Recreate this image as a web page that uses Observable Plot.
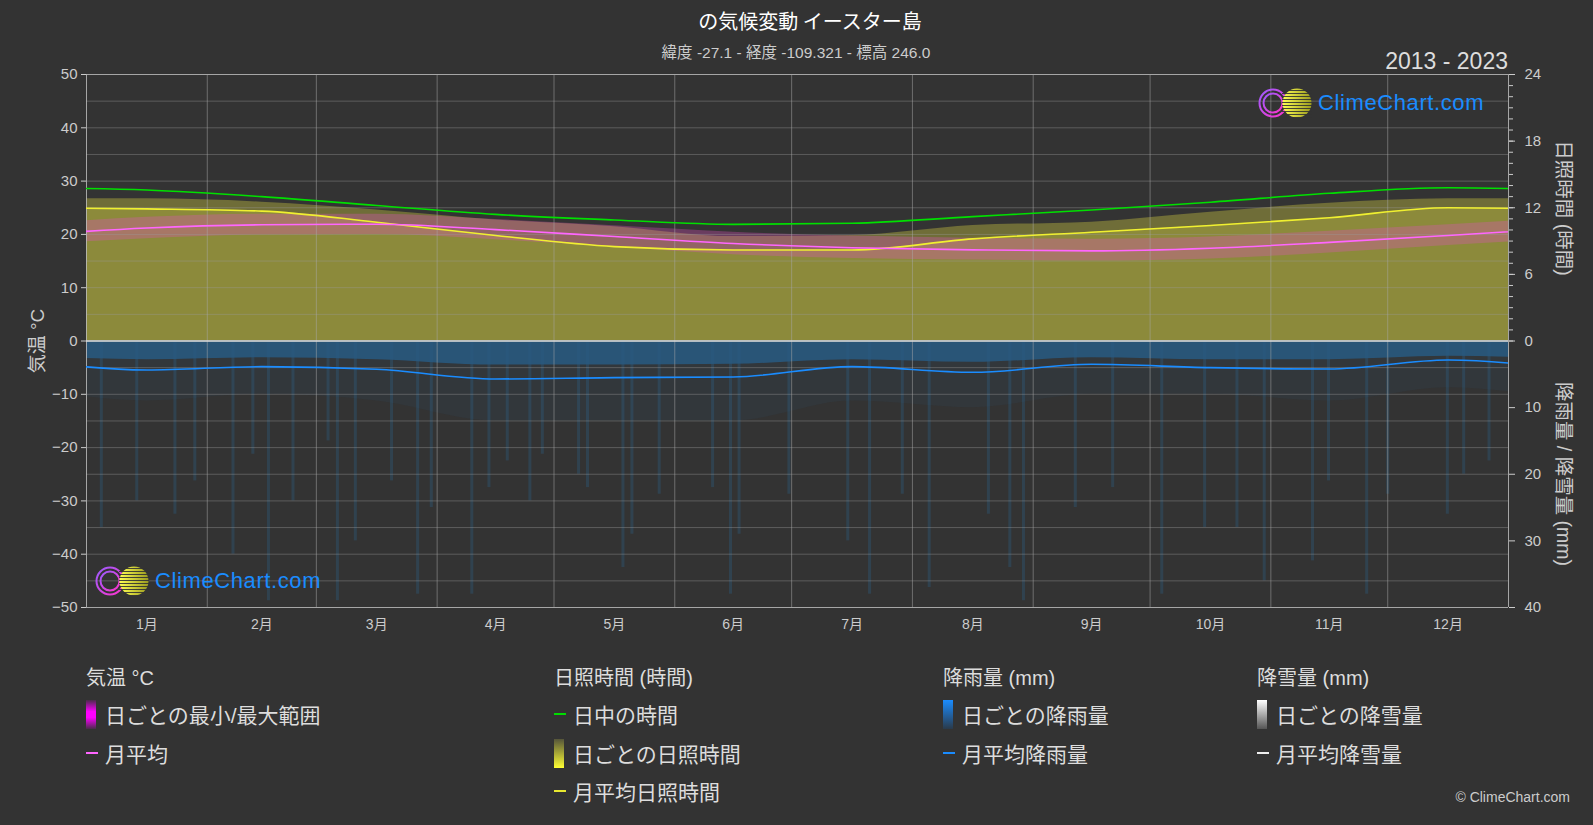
<!DOCTYPE html>
<html><head><meta charset="utf-8">
<script src="https://cdn.jsdelivr.net/npm/d3@7"></script>
<script src="https://cdn.jsdelivr.net/npm/@observablehq/plot@0.6"></script>
<style>
body{margin:0;background:#333;font-family:"Liberation Sans","Noto Sans CJK JP",sans-serif;}
#wrap{position:relative;width:1593px;height:825px;overflow:hidden;background:#333;color:#ddd;}
.abs{position:absolute;white-space:nowrap;}
.rot{transform:translate(-50%,-50%) rotate(90deg);}
.rotl{transform:translate(-50%,-50%) rotate(-90deg);}
.lh{font-size:20px;color:#ddd;transform:translateY(-50%);}
.li{font-size:21px;color:#ddd;display:flex;align-items:center;transform:translateY(-50%);}
.sw{display:inline-block;width:10px;height:29px;margin-right:9px;}
.ln{display:inline-block;width:12px;height:2px;margin-right:7px;}
.logo{display:flex;align-items:center;transform:translateY(-50%);}
.logo span{color:#1a8cff;font-size:22px;font-family:"Liberation Sans",sans-serif;letter-spacing:0.6px;margin-left:2px;}
</style></head>
<body>
<div id="wrap">
  <div class="abs" style="left:810px;top:20px;transform:translate(-50%,-50%);font-size:20px;color:#fff;font-family:'Noto Sans CJK JP',sans-serif;">の気候変動 イースター島</div>
  <div class="abs" style="left:796px;top:51px;transform:translate(-50%,-50%);font-size:15.5px;color:#ccc;font-family:'Liberation Sans','Noto Sans CJK JP',sans-serif;">緯度 -27.1 - 経度 -109.321 - 標高 246.0</div>
  <div class="abs" style="right:85px;top:61px;transform:translateY(-50%);font-size:23px;color:#ddd;">2013 - 2023</div>
  <div id="chart" class="abs" style="left:0;top:60px;"></div>
  <div class="abs rotl" style="left:35px;top:341px;font-size:19px;color:#ccc;">気温 °C</div>
  <div class="abs rot" style="left:1565px;top:208px;font-size:19.5px;color:#ccc;">日照時間 (時間)</div>
  <div class="abs rot" style="left:1565px;top:474px;font-size:19.5px;color:#ccc;">降雨量 / 降雪量 (mm)</div>

  <div id="logo1" class="abs logo" style="left:1258px;top:103px;"></div>
  <div id="logo2" class="abs logo" style="left:95px;top:581px;"></div>

  <div class="abs lh" style="left:86px;top:676px;">気温 °C</div>
  <div class="abs li" style="left:86px;top:714px;"><span class="sw" style="background:linear-gradient(#4a2a4a,#ff00ff 40%,#ff00ff 60%,#4a2a4a)"></span>日ごとの最小/最大範囲</div>
  <div class="abs li" style="left:86px;top:753px;"><span class="ln" style="background:#ff66ff"></span>月平均</div>

  <div class="abs lh" style="left:554px;top:676px;">日照時間 (時間)</div>
  <div class="abs li" style="left:554px;top:714px;"><span class="ln" style="background:#00dd00"></span>日中の時間</div>
  <div class="abs li" style="left:554px;top:753px;"><span class="sw" style="background:linear-gradient(#55553a,#ffff33)"></span>日ごとの日照時間</div>
  <div class="abs li" style="left:554px;top:791px;"><span class="ln" style="background:#e8e830"></span>月平均日照時間</div>

  <div class="abs lh" style="left:943px;top:676px;">降雨量 (mm)</div>
  <div class="abs li" style="left:943px;top:714px;"><span class="sw" style="background:linear-gradient(#1a8cff,#2a3a4a)"></span>日ごとの降雨量</div>
  <div class="abs li" style="left:943px;top:753px;"><span class="ln" style="background:#1a8cff"></span>月平均降雨量</div>

  <div class="abs lh" style="left:1257px;top:676px;">降雪量 (mm)</div>
  <div class="abs li" style="left:1257px;top:714px;"><span class="sw" style="background:linear-gradient(#ffffff,#555)"></span>日ごとの降雪量</div>
  <div class="abs li" style="left:1257px;top:753px;"><span class="ln" style="background:#eee"></span>月平均降雪量</div>

  <div class="abs" style="right:23px;top:797px;transform:translateY(-50%);font-size:14px;color:#ccc;">© ClimeChart.com</div>
</div>
<script>
// ---- data ----
const months = ["1月","2月","3月","4月","5月","6月","7月","8月","9月","10月","11月","12月"];
const monthStart = [0,31,59,90,120,151,181,212,243,273,304,334];
const monthDays = [31,28,31,30,31,30,31,31,30,31,30,31];
const tempMean = [21.2,21.8,21.9,20.9,19.6,18.3,17.5,17.1,16.9,17.4,18.5,19.8];
const tempMin  = [19.2,19.9,20.0,19.0,17.6,16.2,15.5,15.2,15.0,15.4,16.5,17.9];
const tempMax  = [23.2,23.8,23.8,22.8,21.6,20.4,19.7,19.3,19.1,19.5,20.6,21.8];
const daylight = [13.6,13.0,12.2,11.4,10.9,10.5,10.6,11.2,11.8,12.5,13.3,13.8];
const sunMean  = [11.9,11.7,10.7,9.5,8.5,8.2,8.2,9.2,9.8,10.4,11.1,12.0];
const sunTop   = [12.8,12.5,11.8,10.9,10.3,9.4,9.5,10.4,10.7,11.6,12.4,12.8];
const rainMean = [4.35,3.85,4.25,5.7,5.5,5.4,3.85,4.7,3.5,4.0,4.2,2.85];
const rainDense = [2.8,2.5,2.8,3.6,3.6,3.5,2.8,3.2,2.5,2.8,2.8,2.3];
const rainFaint = [9,8,9,12,12,12,9,10,8,8,9,7];
const heavyDay = [3.8,12.9,22.7,27.8,37.6,42.7,46.7,53,62,64.4,69,78.3,85,88.5,98.9,103.3,108,113.8,117,126.3,128.6,137.7,140,147,160.7,165.3,167.5,
                  180.3,195.4,201,209.4,216.3,231.5,237,240.5,253.8,263.4,276,287,295.3,302.3,314.7,318.8,328.6,334,349.3,353.5,360];
const heavyMm  = [28,24,26,21,32,17,39,24,15,39,30,21,38,25,38,22,18,24,17,20,22,34,29,23,22,38,29,
                  23,30,38,23,37,26,34,39,25,22,38,28,28,36,33,21,38,23,26,20,18];
const monthBounds = [...monthStart, 365];

// ---- helpers ----
const dayMid = monthStart.map((s,i)=> s + monthDays[i]/2);
const hToT = h => h*50/24;
const mmToT = m => -m*1.25;
function cyc(arr, f = v => v){
  const pts = arr.map((v,i)=>({d:dayMid[i], v:f(v)}));
  return [{d:dayMid[11]-365, v:f(arr[11])}, ...pts, {d:dayMid[0]+365, v:f(arr[0])}];
}
function cyc2(a, b){
  const pts = a.map((v,i)=>({d:dayMid[i], lo:v, hi:b[i]}));
  return [{d:dayMid[11]-365, lo:a[11], hi:b[11]}, ...pts, {d:dayMid[0]+365, lo:a[0], hi:b[0]}];
}
const labelMap = new Map(dayMid.map((d,i)=>[d, months[i]]));
const heavy = heavyDay.map((d,i)=>({d, y:mmToT(heavyMm[i])}));

const curve = "monotone-x";
const FF = "'Liberation Sans','Noto Sans CJK JP',sans-serif";
const chart = Plot.plot({
  width: 1593, height: 587,
  marginTop: 14, marginBottom: 40, marginLeft: 86, marginRight: 85,
  style: {background: "transparent", color: "#ccc", fontSize: "15px", fontFamily: FF},
  x: {domain: [0, 365], axis: null},
  y: {domain: [-50, 50], axis: null},
  marks: [
    // sunshine fills
    Plot.areaY(cyc(sunTop, hToT), {x:"d", y1:0, y2:"v", curve, fill:"#6f6d38", clip:true}),
    Plot.areaY(cyc(sunMean, hToT), {x:"d", y1:0, y2:"v", curve, fill:"#8c8a3b", clip:true}),
    // temperature range
    Plot.areaY(cyc2(tempMin, tempMax), {x:"d", y1:"lo", y2:"hi", curve, fill:"#e050c0", fillOpacity:0.32, clip:true}),
    // rain fills
    Plot.areaY(cyc(rainFaint, mmToT), {x:"d", y1:0, y2:"v", curve, fill:"#2a6a9a", fillOpacity:0.08, clip:true}),
    Plot.ruleX(heavy, {x:"d", y1:0, y2:"y", stroke:"#2a6a9a", strokeWidth:3, strokeOpacity:0.28}),
    Plot.areaY(cyc(rainDense, mmToT), {x:"d", y1:0, y2:"v", curve, fill:"#285b82", fillOpacity:0.85, clip:true}),
    // grid
    Plot.ruleY(d3.range(-45, 50, 5), {stroke:"#9a9a9a", strokeOpacity:0.4}),
    Plot.ruleY([50, -50], {stroke:"#bbb", strokeOpacity:0.85}),
    Plot.ruleX(monthBounds.slice(1, 12), {stroke:"#aaa", strokeOpacity:0.5}),
    Plot.ruleX([0, 365], {stroke:"#bbb", strokeOpacity:0.85}),
    Plot.ruleY([0], {stroke:"#ddd", strokeWidth:1.5}),
    // lines
    Plot.line(cyc(daylight, hToT), {x:"d", y:"v", curve, stroke:"#00e000", strokeWidth:1.6, clip:true}),
    Plot.line(cyc(sunMean, hToT), {x:"d", y:"v", curve, stroke:"#f0f030", strokeWidth:1.6, clip:true}),
    Plot.line(cyc(tempMean), {x:"d", y:"v", curve, stroke:"#ff66ff", strokeWidth:1.6, clip:true}),
    Plot.line(cyc(rainMean, mmToT), {x:"d", y:"v", curve, stroke:"#1a8cff", strokeWidth:1.6, clip:true}),
    // axes
    Plot.axisY(d3.range(-50, 51, 10), {anchor:"left", tickSize:5, tickPadding:4, label:null, fontSize:15}),
    Plot.axisY(d3.range(0, 25, 1).map(hToT), {anchor:"right", tickSize:4, tickFormat:()=>"", label:null}),
    Plot.axisY([0,6,12,18,24].map(hToT), {anchor:"right", tickSize:6, tickPadding:10, tickFormat:d=>String(Math.round(d*24/50)), label:null, fontSize:15}),
    Plot.axisY([10,20,30,40].map(mmToT), {anchor:"right", tickSize:6, tickPadding:10, tickFormat:d=>String(Math.round(-d/1.25)), label:null, fontSize:15}),
    Plot.axisX(dayMid, {anchor:"bottom", tickSize:0, tickPadding:12, tickFormat:d=>labelMap.get(d), label:null, fontSize:14})
  ]
});
document.getElementById("chart").appendChild(chart);

function logo(id){
  const el = document.getElementById(id);
  el.innerHTML = `<svg width="58" height="36" viewBox="0 0 58 36">
    <defs>
      <linearGradient id="rg${id}" x1="0" x2="1" y1="0" y2="1"><stop offset="0" stop-color="#9b5cff"/><stop offset="1" stop-color="#ff33cc"/></linearGradient>
      <linearGradient id="yg${id}" x1="0" x2="1"><stop offset="0" stop-color="#ffff50"/><stop offset="1" stop-color="#9a9a20"/></linearGradient>
    </defs>
    <circle cx="15" cy="18" r="13.5" fill="none" stroke="url(#rg${id})" stroke-width="2"/>
    <circle cx="15" cy="18" r="9.5" fill="none" stroke="url(#rg${id})" stroke-width="2"/>
    <circle cx="39" cy="18" r="14.5" fill="url(#yg${id})"/>
    <g fill="#333">${d3.range(5, 33, 3).map(y=>`<rect x="24" y="${y}" width="30" height="0.9"/>`).join("")}</g>
  </svg><span>ClimeChart.com</span>`;
}
logo("logo1"); logo("logo2");
</script>
</body></html>
